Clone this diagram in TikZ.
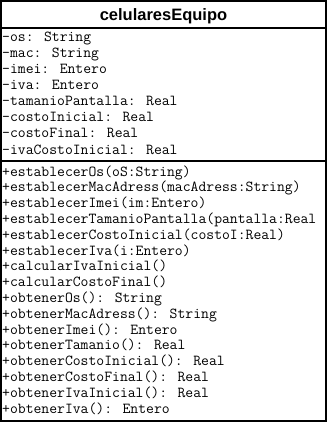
\documentclass[tikz,border=0pt]{standalone}
\usepackage{fontspec}
\setmainfont{Liberation Sans}
\begin{document}
\begin{tikzpicture}[x=1pt,y=-1pt]
\newcommand{\attrgap}{16}
\newcommand{\methgap}{15.8}
\tikzstyle{classname}=[font=\fontsize{16.5}{18}\selectfont\bfseries,inner sep=0pt,anchor=base]
\tikzstyle{member}=[font=\fontsize{15.25}{17}\selectfont\ttfamily,inner sep=0pt,anchor=base west]
\tikzstyle{frame}=[line width=2pt]
\useasboundingbox (0,0) rectangle (327,422);
\coordinate (nw) at (1,1);
\coordinate (se) at (325.9,420.6);
\coordinate (sep1w) at (1,28.2);
\coordinate (sep1e) at (325.9,28.2);
\coordinate (sep2w) at (1,160.5);
\coordinate (sep2e) at (325.9,160.5);
% class name
\node[classname] (title) at (163.5,20.5) {celularesEquipo};
% attributes
\node[member] (a0) at (2,42+\attrgap*0) {-os: String};
\node[member] (a1) at (2,42+\attrgap*1) {-mac: String};
\node[member] (a2) at (2,42+\attrgap*2) {-imei: Entero};
\node[member] (a3) at (2,42+\attrgap*3) {-iva: Entero};
\node[member] (a4) at (2,42+\attrgap*4) {-tamanioPantalla: Real};
\node[member] (a5) at (2,42+\attrgap*5) {-costoInicial: Real};
\node[member] (a6) at (2,42+\attrgap*6) {-costoFinal: Real};
\node[member] (a7) at (2,42+\attrgap*7) {-ivaCostoInicial: Real};
% methods
\node[member] (m0) at (2,176+\methgap*0) {+establecerOs(oS:String)};
\node[member] (m1) at (2,176+\methgap*1) {+establecerMacAdress(macAdress:String)};
\node[member] (m2) at (2,176+\methgap*2) {+establecerImei(im:Entero)};
\node[member] (m3) at (2,176+\methgap*3) {+establecerTamanioPantalla(pantalla:Real};
\node[member] (m4) at (2,176+\methgap*4) {+establecerCostoInicial(costoI:Real)};
\node[member] (m5) at (2,176+\methgap*5) {+establecerIva(i:Entero)};
\node[member] (m6) at (2,176+\methgap*6) {+calcularIvaInicial()};
\node[member] (m7) at (2,176+\methgap*7) {+calcularCostoFinal()};
\node[member] (m8) at (2,176+\methgap*8) {+obtenerOs(): String};
\node[member] (m9) at (2,176+\methgap*9) {+obtenerMacAdress(): String};
\node[member] (m10) at (2,176+\methgap*10) {+obtenerImei(): Entero};
\node[member] (m11) at (2,176+\methgap*11) {+obtenerTamanio(): Real};
\node[member] (m12) at (2,176+\methgap*12) {+obtenerCostoInicial(): Real};
\node[member] (m13) at (2,176+\methgap*13) {+obtenerCostoFinal(): Real};
\node[member] (m14) at (2,176+\methgap*14) {+obtenerIvaInicial(): Real};
\node[member] (m15) at (2,176+\methgap*15) {+obtenerIva(): Entero};
% outline and compartments
\draw[frame] (nw) rectangle (se);
\draw[frame] (sep1w) -- (sep1e);
\draw[frame] (sep2w) -- (sep2e);
\end{tikzpicture}
\end{document}
